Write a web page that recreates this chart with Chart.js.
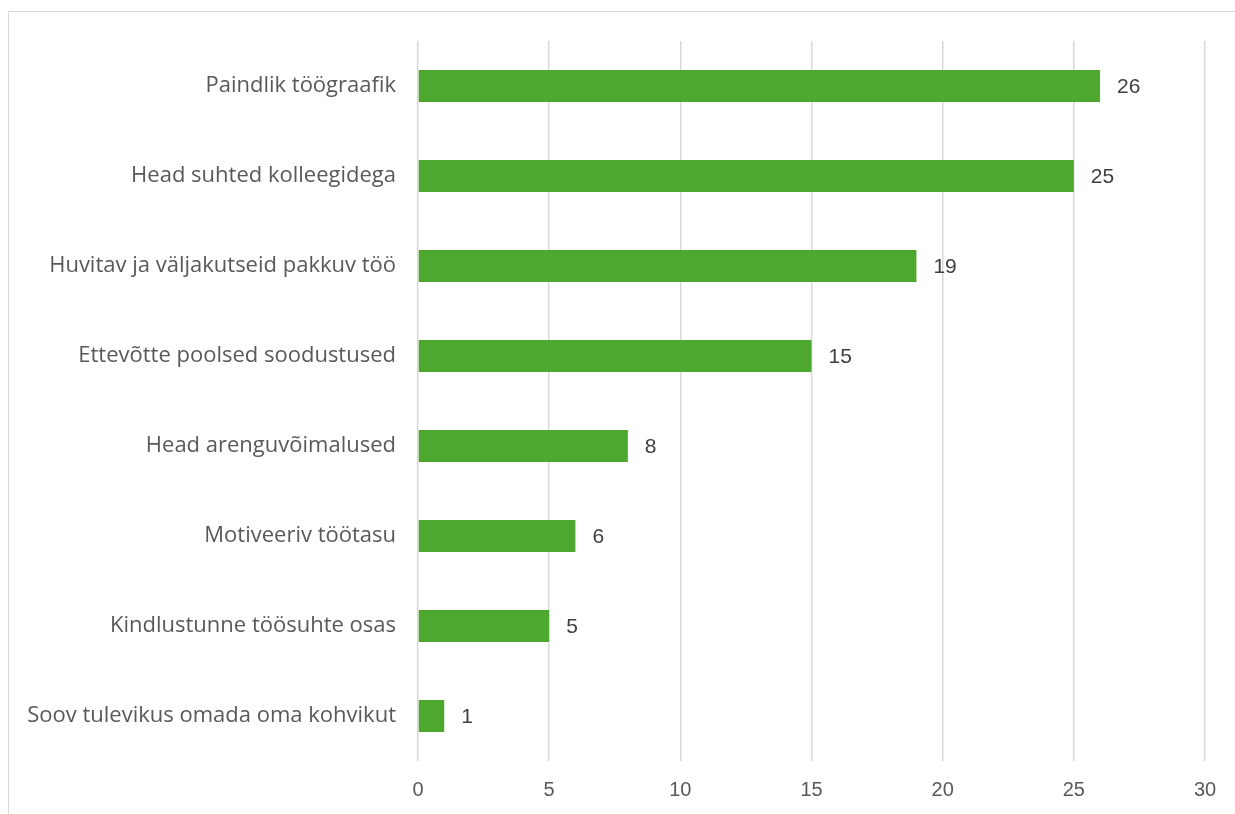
<!DOCTYPE html>
<html>
<head>
<meta charset="utf-8">
<script src="https://cdn.jsdelivr.net/npm/chart.js@4"></script>
<style>
  html, body { margin: 0; padding: 0; background: #fff; overflow: hidden; }
  #frame {
    position: absolute; left: 8px; top: 11px; width: 1400px; height: 1000px;
    border-top: 1px solid #d9d9d9; border-left: 1px solid #d9d9d9;
  }
  #wrap { position: absolute; left: 0; top: 0; width: 1235px; height: 814px; }
</style>
</head>
<body>
<div id="frame"></div>
<div id="wrap"><canvas id="chart"></canvas></div>
<script>
// Reasons listed as motivators, top to bottom
const categories = [
  'Paindlik töögraafik',
  'Head suhted kolleegidega',
  'Huvitav ja väljakutseid pakkuv töö',
  'Ettevõtte poolsed soodustused',
  'Head arenguvõimalused',
  'Motiveeriv töötasu',
  'Kindlustunne töösuhte osas',
  'Soov tulevikus omada oma kohvikut'
];
const counts = [26, 25, 19, 15, 8, 6, 5, 1];
const xTicks = [0, 5, 10, 15, 20, 25, 30];

const LABEL_FONT = "'Open Sans', sans-serif";
const NUM_FONT = "'Liberation Sans', Arial, sans-serif";

// Draws the count right after the end of each bar
const valueLabels = {
  id: 'valueLabels',
  afterDatasetsDraw(chart) {
    const ctx = chart.ctx;
    const meta = chart.getDatasetMeta(0);
    ctx.save();
    ctx.font = '21px ' + NUM_FONT;
    ctx.fillStyle = '#404040';
    ctx.textAlign = 'left';
    ctx.textBaseline = 'middle';
    meta.data.forEach((bar, i) => {
      ctx.fillText(String(counts[i]), bar.x + 17, bar.y + 1);
    });
    ctx.restore();
  }
};

new Chart(document.getElementById('chart'), {
  type: 'bar',
  data: {
    labels: categories,
    datasets: [{
      data: counts,
      backgroundColor: '#4ea72e',
      borderWidth: 0,
      categoryPercentage: 1,
      barPercentage: 0.356
    }]
  },
  options: {
    indexAxis: 'y',
    responsive: true,
    maintainAspectRatio: false,
    animation: false,
    layout: { padding: { top: 41, right: 30, left: 0, bottom: 0 } },
    plugins: {
      legend: { display: false },
      tooltip: { enabled: false }
    },
    scales: {
      x: {
        min: 0,
        max: 30,
        afterBuildTicks: (scale) => { scale.ticks = xTicks.map(v => ({ value: v })); },
        afterFit: (scale) => { scale.height = 53; },
        border: { display: false },
        grid: { color: '#d9d9d9', lineWidth: 1.5, drawTicks: false },
        ticks: {
          padding: 17,
          color: '#595959',
          font: { family: NUM_FONT, size: 20 }
        }
      },
      y: {
        afterFit: (scale) => { scale.width = 418; },
        border: { display: false },
        grid: { display: false, drawTicks: false },
        ticks: {
          padding: 22,
          color: '#595959',
          font: { family: LABEL_FONT, size: 22 }
        }
      }
    }
  },
  plugins: [valueLabels]
});
</script>
</body>
</html>
